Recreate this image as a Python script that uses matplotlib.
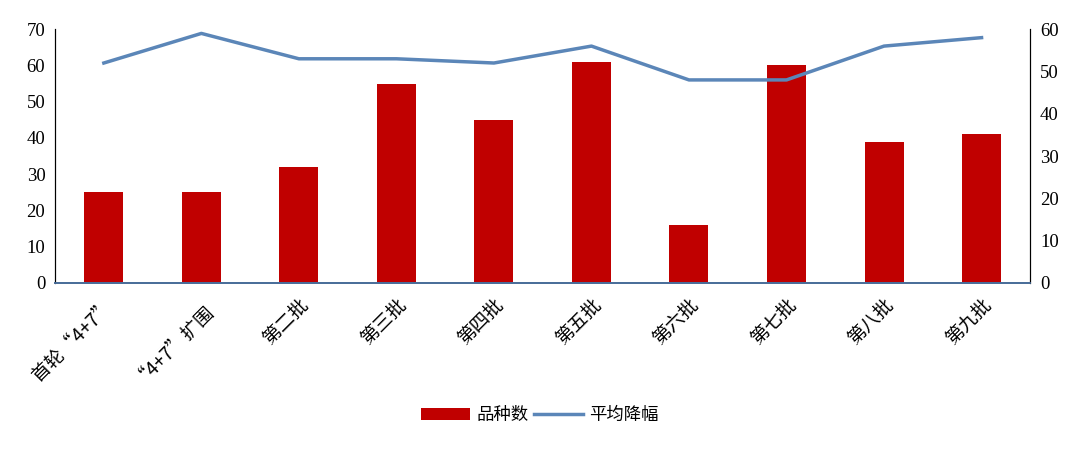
import matplotlib.pyplot as plt
import numpy as np

categories = ['首轮“4+7”', '“4+7”扩围', '第二批', '第三批', '第四批',
              '第五批', '第六批', '第七批', '第八批', '第九批']
varieties = [25, 25, 32, 55, 45, 61, 16, 60, 39, 41]
avg_cut = [52, 59, 53, 53, 52, 56, 48, 48, 56, 58]

plt.rcParams['font.family'] = ['Liberation Serif', 'Noto Sans CJK SC']

fig = plt.figure(figsize=(10.8, 4.49), dpi=100)
ax = fig.add_axes([0.051, 0.370, 0.903, 0.565])
ax2 = ax.twinx()

x = np.arange(len(categories))
bars = ax.bar(x, varieties, width=0.4, color='#C00000', label='品种数', zorder=2)
line, = ax2.plot(x, avg_cut, color='#5B86B8', linewidth=2.5, label='平均降幅', zorder=3)

ax.set_xlim(-0.5, len(categories) - 0.5)
ax.set_ylim(0, 70)
ax.set_yticks(range(0, 71, 10))
ax2.set_ylim(0, 60)
ax2.set_yticks(range(0, 61, 10))

for a in (ax, ax2):
    a.spines['top'].set_visible(False)
    a.spines['left'].set_color('black')
    a.spines['right'].set_color('black')
    a.spines['bottom'].set_color('#4A6E9A')
    a.spines['bottom'].set_linewidth(1.3)
    a.tick_params(axis='y', length=0, labelsize=13.5, pad=7)

ax.set_zorder(ax2.get_zorder() - 1)
ax2.patch.set_visible(False)

ax.set_xticks(x)
ax.set_xticklabels(categories, rotation=45, ha='right', rotation_mode='anchor',
                   fontsize=13.5, family=['Noto Sans CJK SC', 'DejaVu Sans'])
ax.tick_params(axis='x', length=0, pad=9)

fig.legend([bars, line], ['品种数', '平均降幅'], loc='center', bbox_to_anchor=(0.5, 0.075),
           ncol=2, frameon=False, prop={'family': 'Noto Sans CJK SC', 'size': 12.5},
           handlelength=2.8, handletextpad=0.4, columnspacing=0.3)

fig.savefig('out.png', dpi=100)
